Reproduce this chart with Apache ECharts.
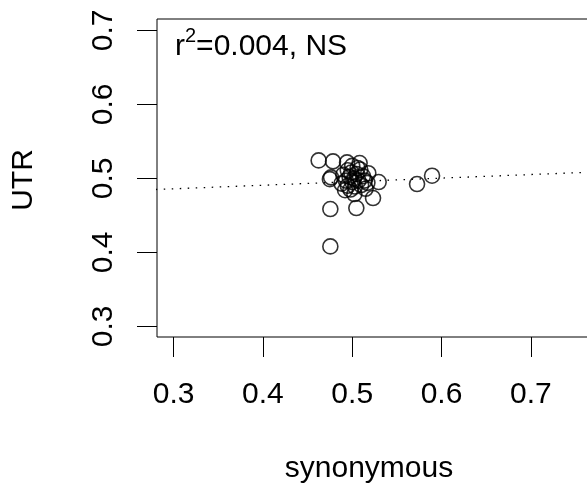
<!DOCTYPE html>
<html>
<head>
<meta charset="utf-8">
<script src="https://cdn.jsdelivr.net/npm/echarts@6/dist/echarts.min.js"></script>
<style>
html,body{margin:0;padding:0;background:#fff;}
#chart{width:587px;height:492px;}
</style>
</head>
<body>
<div id="chart"></div>
<script>
// synonymous (x) and UTR (y) values
var synX = [0.4624, 0.4785, 0.4942, 0.5083, 0.4763, 0.4750, 0.5296, 0.5726, 0.5894, 0.5233,
            0.4755, 0.5046, 0.4755, 0.5024,
            0.488, 0.490, 0.492, 0.493, 0.495, 0.495, 0.497, 0.498, 0.499, 0.500,
            0.502, 0.503, 0.505, 0.507, 0.509, 0.510, 0.512, 0.514, 0.518, 0.517,
            0.515, 0.506, 0.500];
var utrY = [0.5243, 0.5230, 0.5216, 0.5208, 0.5014, 0.4990, 0.4951, 0.4924, 0.5036, 0.4735,
            0.4586, 0.4600, 0.4081, 0.4789,
            0.493, 0.505, 0.484, 0.497, 0.490, 0.511, 0.502, 0.485, 0.508, 0.495,
            0.500, 0.489, 0.506, 0.497, 0.512, 0.491, 0.503, 0.497, 0.507, 0.494,
            0.486, 0.514, 0.517];
// regression line end points
var fitX = [0.28, 0.82];
var fitY = [0.485, 0.511];
// tick labels
var xTicks = [0.3, 0.4, 0.5, 0.6, 0.7];
var yTicks = [0.3, 0.4, 0.5, 0.6, 0.7];

var FONT = 'Liberation Sans';
var points = synX.map(function (x, i) { return [x, utrY[i]]; });
var fit = fitX.map(function (x, i) { return [x, fitY[i]]; });

var chart = echarts.init(document.getElementById('chart'), null, {renderer: 'canvas'});
chart.setOption({
  animation: false,
  backgroundColor: '#fff',
  grid: {left: 157, top: 19, width: 481, height: 318, show: true, outerBoundsMode: 'none',
         containLabel: false,
         borderColor: '#000', borderWidth: 1, backgroundColor: 'transparent'},
  xAxis: {
    type: 'value', min: 0.2814, max: 0.82,
    axisLine: {show: false},
    splitLine: {show: false},
    axisTick: {show: true, length: 20, inside: false, customValues: xTicks,
               lineStyle: {color: '#000', width: 1}},
    axisLabel: {customValues: xTicks, margin: 43, fontSize: 30, fontFamily: FONT, color: '#000',
                formatter: function (v) { return v.toFixed(1); }}
  },
  yAxis: {
    type: 'value', min: 0.2857, max: 0.7154,
    axisLine: {show: false},
    splitLine: {show: false},
    axisTick: {show: true, length: 20, inside: false, customValues: yTicks,
               lineStyle: {color: '#000', width: 1}},
    axisLabel: {customValues: yTicks, margin: 38, rotate: 90, fontSize: 30, fontFamily: FONT, color: '#000',
                formatter: function (v) { return v.toFixed(1); }}
  },
  series: [
    {
      type: 'line', data: fit, showSymbol: false, silent: true, clip: true,
      lineStyle: {color: '#000', width: 1.3, type: [1.5, 6.5]}
    },
    {
      type: 'scatter', data: points, symbol: 'circle', symbolSize: 15,
      itemStyle: {color: 'rgba(0,0,0,0)', borderColor: '#000', borderWidth: 1.6}
    }
  ],
  graphic: [
    {type: 'text', left: 175, top: 26,
     style: {text: '{b|r}{s|2}{b|=0.004, NS}', fontFamily: FONT, fill: '#000',
             rich: {
               b: {fontSize: 30, fontFamily: FONT, lineHeight: 36, verticalAlign: 'bottom'},
               s: {fontSize: 20, fontFamily: FONT, lineHeight: 36, verticalAlign: 'top'}
             }}},
    {type: 'text', x: 24, y: 180, rotation: Math.PI / 2,
     style: {text: 'UTR', fontSize: 30, fontFamily: FONT, fill: '#000', align: 'center', verticalAlign: 'middle'}},
    {type: 'text', x: 369, y: 469,
     style: {text: 'synonymous', fontSize: 30, fontFamily: FONT, fill: '#000', align: 'center', verticalAlign: 'middle'}}
  ]
});
</script>
</body>
</html>
